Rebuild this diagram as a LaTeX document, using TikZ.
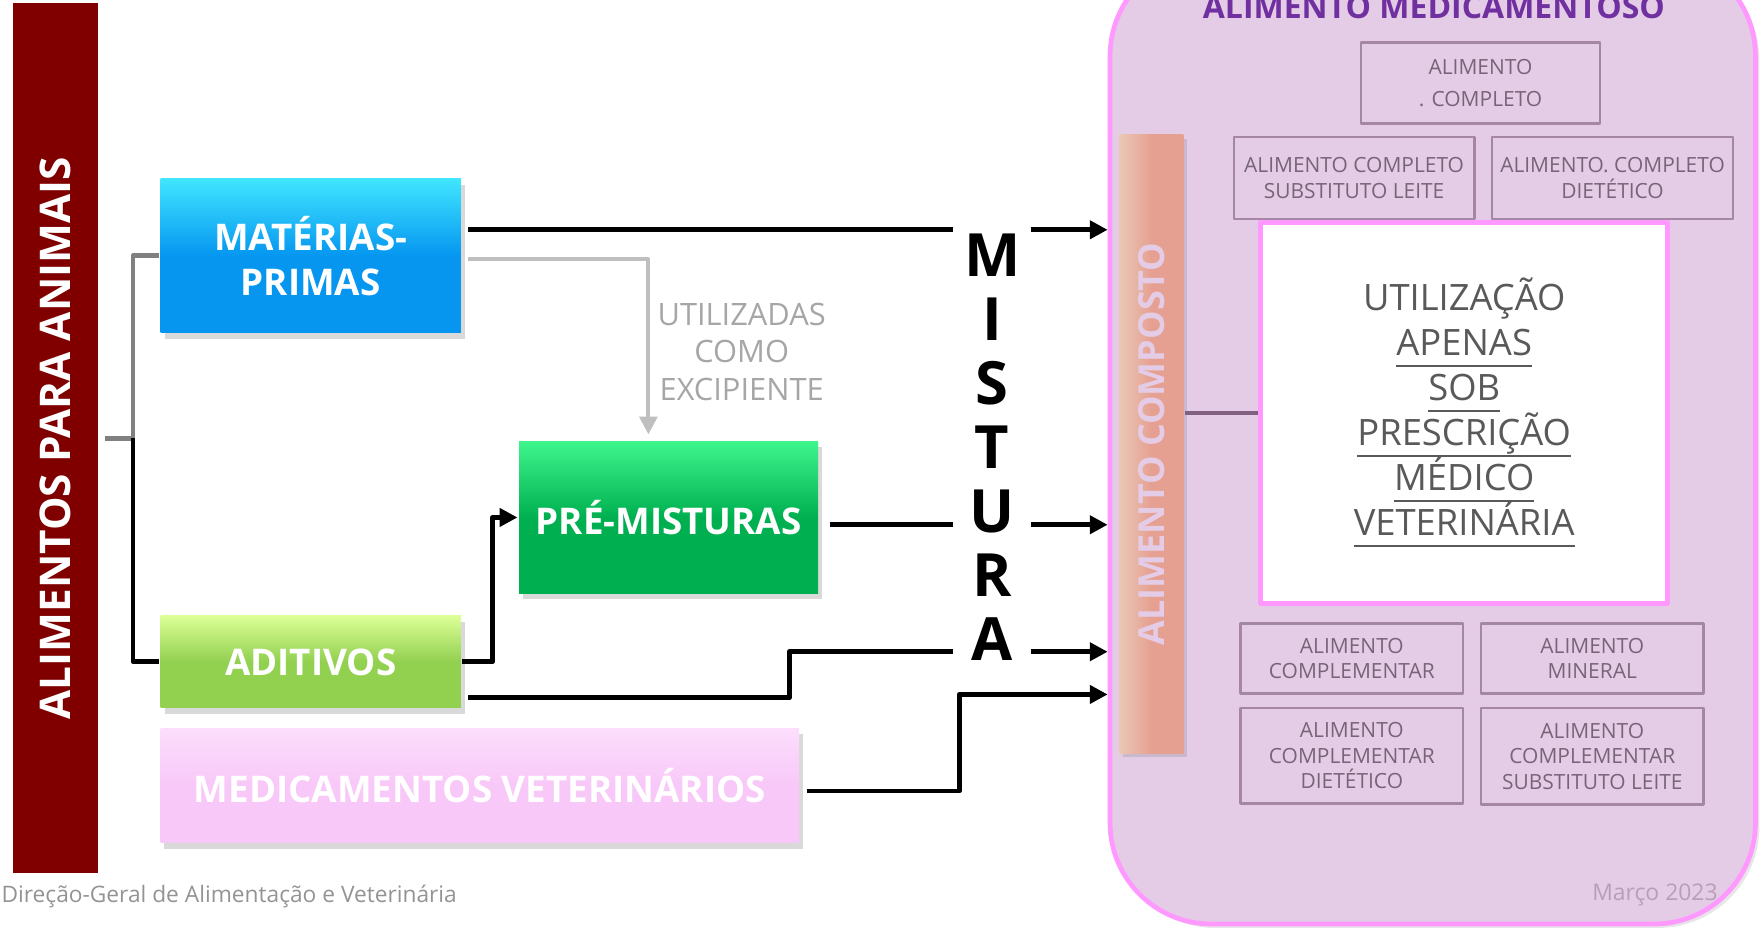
\documentclass[tikz,border=0pt]{standalone}
\usepackage{fontspec}
\setmainfont{Open Sans}
\usetikzlibrary{positioning,calc,arrows.meta,shadows}

\definecolor{vinho}{RGB}{128,0,0}
\definecolor{azul}{RGB}{6,150,240}
\definecolor{azulc}{RGB}{64,230,255}
\definecolor{verde}{RGB}{0,176,80}
\definecolor{verdec}{RGB}{62,245,140}
\definecolor{lima}{RGB}{146,208,80}
\definecolor{limac}{RGB}{220,255,150}
\definecolor{rosacx}{RGB}{248,200,248}
\definecolor{rosacxc}{RGB}{252,222,252}
\definecolor{rosa}{RGB}{255,153,255}
\definecolor{lilas}{RGB}{228,204,230}
\definecolor{salmao}{RGB}{229,160,146}
\definecolor{salmaoc}{RGB}{234,200,180}
\definecolor{roxo}{RGB}{112,48,160}
\definecolor{borda}{RGB}{165,135,165}
\definecolor{textoroxo}{RGB}{120,100,120}
\definecolor{ligacao}{RGB}{128,96,128}
\definecolor{cinza}{RGB}{128,128,128}
\definecolor{cinzac}{RGB}{191,191,191}
\definecolor{cinzat}{RGB}{166,166,166}
\definecolor{cinzaf}{RGB}{89,89,89}

\newcommand{\sublinha}[1]{\underline{\smash{#1}\rule[-1.3pt]{0pt}{1pt}}}

\begin{document}
\begin{tikzpicture}[x=0.01cm,y=-0.01cm,line join=round,>={Triangle[length=4.5pt,width=4.5pt]},thick]
	\tikzset{
		caixa/.style={minimum width=2.67cm,minimum height=1.37cm,inner sep=0pt,text=white,align=center,
			font=\bfseries\fontsize{9.3}{11.4}\selectfont,
			drop shadow={opacity=0.3,shadow xshift=1pt,shadow yshift=-1.5pt}},
		caixinha/.style={draw=borda,line width=0.6pt,inner sep=0pt,text=textoroxo,align=center,
			font=\fontsize{5.3}{6.5}\selectfont},
		fluxo/.style={line width=1.2pt,black},
		letras/.style={font=\bfseries\fontsize{15.1}{16.2}\selectfont,align=center,inner sep=0pt,minimum width=0.67cm}
	}
	\useasboundingbox (0,0) rectangle (1568,825);
	\clip (0,0) rectangle (1568,825);
	
	\node[fill=lilas,draw=rosa,line width=1.2pt,rounded corners=0.9cm,minimum width=5.74cm,minimum height=8.62cm,
		drop shadow={opacity=0.2,shadow xshift=1pt,shadow yshift=-1pt}] (med) at (1275,391) {};
	\node[text=roxo,font=\bfseries\fontsize{8.1}{9}\selectfont] (tit) at (1276,6) {ALIMENTO MEDICAMENTOSO};
	\node[rotate=90,minimum width=5.5cm,minimum height=0.57cm,inner sep=0pt,left color=salmaoc,right color=salmao,middle color=salmao,
		text=lilas,font=\bfseries\fontsize{9.1}{10}\selectfont,
		drop shadow={opacity=0.25,shadow xshift=1pt,shadow yshift=-1pt}] (comp) at (1024.5,395) {ALIMENTO COMPOSTO};
	\node[fill=white,draw=rosa,line width=1.2pt,minimum width=3.62cm,minimum height=3.39cm,inner sep=0pt,align=center,
		text=cinzaf,font=\fontsize{9.2}{11.4}\selectfont] (uso) at (1303,367.5)
		{UTILIZAÇÃO\\\sublinha{APENAS}\\\sublinha{SOB}\\\sublinha{PRESCRIÇÃO}\\\sublinha{MÉDICO}\\\sublinha{VETERINÁRIA}};
	\draw[line width=1.1pt,ligacao] (comp.south |- uso.west) -- (uso.west);
	
	\node[caixinha,minimum width=2.13cm,minimum height=0.72cm] (c1) at (1317.5,74) {ALIMENTO\\[1.4pt]. COMPLETO};
	\node[caixinha,minimum width=2.14cm,minimum height=0.73cm] (c2) at (1205,158.5) {ALIMENTO COMPLETO\\SUBSTITUTO LEITE};
	\node[caixinha,minimum width=2.14cm,minimum height=0.73cm] (c3) at (1435,158.5) {ALIMENTO. COMPLETO\\DIETÉTICO};
	\node[caixinha,minimum width=1.98cm,minimum height=0.62cm] (c4) at (1203,586) {ALIMENTO\\COMPLEMENTAR};
	\node[caixinha,minimum width=1.98cm,minimum height=0.62cm] (c5) at (1417,586) {ALIMENTO\\MINERAL};
	\node[caixinha,minimum width=1.98cm,minimum height=0.85cm] (c6) at (1203,672.5) {ALIMENTO\\COMPLEMENTAR\\DIETÉTICO};
	\node[caixinha,minimum width=1.98cm,minimum height=0.86cm] (c7) at (1417,673) {ALIMENTO\\COMPLEMENTAR\\SUBSTITUTO LEITE};
	\node[anchor=east,inner sep=0pt,text=borda!80,font=\fontsize{5.8}{7}\selectfont] (data) at (1530,796) {Março 2023};
	
	\node[rotate=90,fill=vinho,minimum width=7.74cm,minimum height=0.75cm,inner sep=0pt,text=white,
		font=\bfseries\fontsize{10.7}{12}\selectfont] (aa) at (49.5,390) {ALIMENTOS PARA ANIMAIS};
	\node[anchor=west,text=cinza!85,font=\fontsize{5.75}{7}\selectfont,inner sep=0pt] (dgav) at (0,798) {Direção-Geral de Alimentação e Veterinária};
	
	\node[caixa,top color=azulc,bottom color=azul,middle color=azul] (mp) at (276.5,227.5) {MATÉRIAS-\\PRIMAS};
	\node[caixa,minimum height=0.82cm,top color=limac,bottom color=lima,middle color=lima] (ad) at (276.5,589) {ADITIVOS};
	\node[caixa,minimum width=2.66cm,minimum height=1.35cm,top color=verdec,bottom color=verde,middle color=verde] (pm) at (595,460.5) {PRÉ-MISTURAS};
	\node[caixa,minimum width=5.68cm,minimum height=1.02cm,top color=rosacxc,bottom color=rosacx,middle color=rosacx] (mv) at (427,699) {MEDICAMENTOS VETERINÁRIOS};
	\node[letras] (mist) at (883,398) {M\\I\\S\\T\\U\\R\\A};
	\node[text=cinzat,align=center,font=\fontsize{7.8}{9.5}\selectfont] (exc) at (660,313) {UTILIZADAS\\COMO\\EXCIPIENTE};
	
	\coordinate (hub) at ($(aa.south)+(30,0)$);
	\draw[line width=1.2pt,cinza] ($(aa.south)+(5,0)$) -- (hub) |- (mp.west);
	\draw[fluxo] (hub) |- (ad.west);
	\coordinate (o1) at ($(mp.east)+(5,-23)$);
	\draw[fluxo] (o1) -- (o1 -| mist.west);
	\draw[fluxo,->] (o1 -| mist.east) -- (o1 -| med.west);
	\coordinate (o2) at ($(mp.east)+(5,3)$);
	\draw[line width=1pt,cinzac,->] (o2) -| ($(pm.north)+(-18,-5)$);
	\draw[fluxo,->] (ad.east) -- ++(27,0) |- (pm.west);
	\coordinate (o3) at ($(pm.east)+(9,6.5)$);
	\draw[fluxo] (o3) -- (o3 -| mist.west);
	\draw[fluxo,->] (o3 -| mist.east) -- (o3 -| med.west);
	\coordinate (o4) at ($(ad.east)+(5,32)$);
	\coordinate (o5) at (mist.west |- 0,580);
	\draw[fluxo] (o4) -- ++(286,0) |- (o5);
	\draw[fluxo,->] (o5 -| mist.east) -- (o5 -| med.west);
	\coordinate (o6) at ($(mv.east)+(6,5)$);
	\draw[fluxo,->] (o6) -- ++(135,0) |- (med.west |- 0,618);
\end{tikzpicture}
\end{document}
